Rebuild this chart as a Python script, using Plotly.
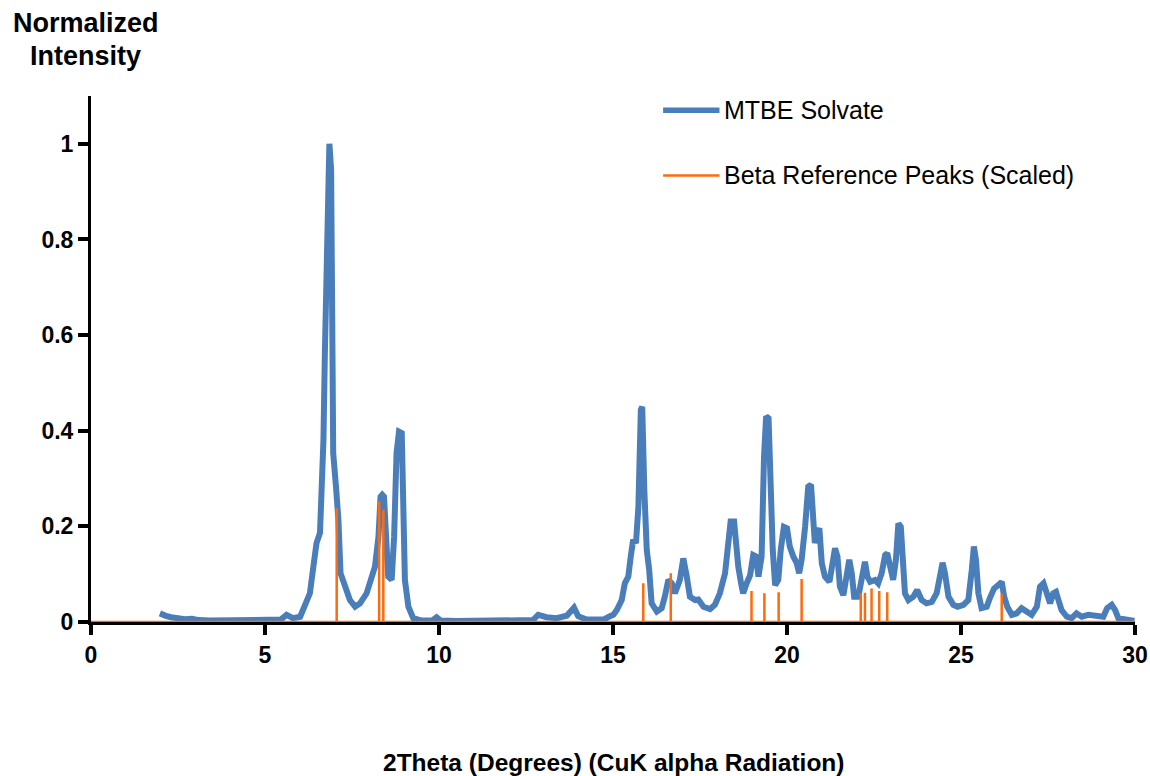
import plotly.graph_objects as go

# MTBE solvate powder pattern (2-theta in degrees, normalized intensity)
two_theta = [
    1.98, 2.05, 2.15, 2.3, 2.5, 2.7, 2.9, 3.1, 3.4, 3.7, 4.0, 4.3, 4.6, 4.9, 5.2, 5.45,
    5.62, 5.8, 6.01, 6.15, 6.29, 6.39, 6.48, 6.58, 6.63, 6.68, 6.72, 6.79, 6.85, 6.90,
    6.92, 6.96, 7.04, 7.11, 7.17, 7.30, 7.44, 7.59, 7.73, 7.92, 8.02, 8.16, 8.26, 8.32,
    8.37, 8.42, 8.48, 8.54, 8.64, 8.71, 8.78, 8.85, 8.93, 8.97, 9.02, 9.12, 9.26, 9.5,
    9.8, 9.93, 10.05, 10.5, 11.0, 11.5, 12.0, 12.5, 12.70, 12.85, 13.09, 13.38, 13.67,
    13.88, 14.0, 14.24, 14.72, 14.91, 15.01, 15.11, 15.25, 15.34, 15.44, 15.51, 15.58,
    15.66, 15.73, 15.80, 15.84, 15.90, 15.97, 16.04, 16.11, 16.26, 16.40, 16.49, 16.59,
    16.69, 16.78, 16.92, 17.02, 17.12, 17.21, 17.36, 17.45, 17.60, 17.79, 17.93, 18.07,
    18.22, 18.31, 18.38, 18.48, 18.53, 18.60, 18.68, 18.74, 18.84, 18.94, 19.03, 19.11,
    19.18, 19.27, 19.34, 19.40, 19.47, 19.53, 19.59, 19.66, 19.75, 19.82, 19.91, 20.00,
    20.08, 20.18, 20.28, 20.35, 20.42, 20.52, 20.61, 20.69, 20.76, 20.80, 20.87, 20.93,
    21.00, 21.09, 21.22, 21.31, 21.38, 21.45, 21.52, 21.62, 21.72, 21.79, 21.86, 21.93,
    22.05, 22.15, 22.24, 22.31, 22.39, 22.53, 22.62, 22.72, 22.82, 22.88, 22.96, 23.05,
    23.13, 23.20, 23.27, 23.32, 23.39, 23.49, 23.63, 23.74, 23.87, 24.01, 24.16, 24.30,
    24.40, 24.47, 24.54, 24.64, 24.78, 24.90, 25.07, 25.21, 25.31, 25.37, 25.43, 25.50,
    25.59, 25.74, 25.83, 25.95, 26.07, 26.17, 26.24, 26.33, 26.46, 26.60, 26.74, 26.89,
    27.03, 27.18, 27.27, 27.37, 27.46, 27.56, 27.65, 27.73, 27.80, 27.89, 28.04, 28.18,
    28.32, 28.47, 28.66, 28.90, 29.09, 29.20, 29.33, 29.43, 29.52, 29.86, 29.98,
]
intensity = [
    0.018, 0.015, 0.013, 0.010, 0.007, 0.006, 0.007, 0.004, 0.003, 0.003, 0.002, 0.003,
    0.003, 0.004, 0.004, 0.005, 0.015, 0.008, 0.011, 0.032, 0.060, 0.116, 0.165, 0.186,
    0.283, 0.381, 0.562, 0.841, 1.000, 0.946, 0.562, 0.353, 0.283, 0.213, 0.102, 0.074,
    0.046, 0.032, 0.039, 0.060, 0.088, 0.116, 0.178, 0.262, 0.266, 0.262, 0.178, 0.095,
    0.088, 0.178, 0.353, 0.398, 0.395, 0.213, 0.088, 0.032, 0.008, 0.003, 0.003, 0.010,
    0.003, 0.002, 0.002, 0.002, 0.002, 0.003, 0.004, 0.015, 0.010, 0.008, 0.013, 0.030,
    0.012, 0.005, 0.005, 0.012, 0.015, 0.025, 0.046, 0.081, 0.095, 0.137, 0.172, 0.165,
    0.241, 0.444, 0.450, 0.276, 0.151, 0.109, 0.039, 0.022, 0.029, 0.053, 0.088, 0.081,
    0.060, 0.088, 0.133, 0.095, 0.053, 0.046, 0.047, 0.032, 0.027, 0.036, 0.060, 0.102,
    0.158, 0.210, 0.210, 0.151, 0.116, 0.081, 0.060, 0.081, 0.098, 0.140, 0.137, 0.095,
    0.137, 0.346, 0.430, 0.426, 0.276, 0.151, 0.077, 0.088, 0.151, 0.199, 0.196, 0.158,
    0.137, 0.123, 0.102, 0.130, 0.199, 0.283, 0.287, 0.199, 0.165, 0.186, 0.196, 0.123,
    0.095, 0.084, 0.130, 0.154, 0.137, 0.074, 0.056, 0.095, 0.130, 0.102, 0.053, 0.053,
    0.088, 0.126, 0.095, 0.084, 0.088, 0.081, 0.102, 0.140, 0.144, 0.116, 0.088, 0.130,
    0.206, 0.199, 0.116, 0.060, 0.046, 0.053, 0.067, 0.046, 0.039, 0.042, 0.060, 0.095,
    0.124, 0.102, 0.053, 0.036, 0.032, 0.036, 0.046, 0.109, 0.158, 0.130, 0.060, 0.029,
    0.032, 0.050, 0.070, 0.077, 0.084, 0.053, 0.032, 0.015, 0.018, 0.029, 0.022, 0.015,
    0.032, 0.074, 0.081, 0.063, 0.039, 0.060, 0.063, 0.046, 0.025, 0.011, 0.008, 0.018,
    0.011, 0.015, 0.011, 0.011, 0.029, 0.036, 0.025, 0.008, 0.004, 0.002,
]

# Beta form reference peak positions and scaled heights
ref_positions = [7.06, 8.28, 8.40, 15.87, 16.66, 18.98, 19.35, 19.76, 20.42,
                 22.12, 22.24, 22.43, 22.65, 22.88, 26.17]
ref_heights = [0.238, 0.252, 0.234, 0.081, 0.102, 0.065, 0.060, 0.062, 0.090,
               0.060, 0.061, 0.070, 0.065, 0.062, 0.059]

x_ticks = [0, 5, 10, 15, 20, 25, 30]
y_ticks = [0, 0.2, 0.4, 0.6, 0.8, 1.0]
y_tick_text = ["0", "0.2", "0.4", "0.6", "0.8", "1"]

BLUE = "#4a7ebb"
ORANGE = "#ff6a0d"
FONT = "Liberation Sans, Arial, sans-serif"

# Stick pattern: baseline from 0 to 30 with a vertical spike at each reference peak
stick_x = [0.0]
stick_y = [0.0]
for p, h in zip(ref_positions, ref_heights):
    stick_x += [p, p, p]
    stick_y += [0.0, h, 0.0]
stick_x.append(30.0)
stick_y.append(0.0)

fig = go.Figure()
fig.add_trace(go.Scatter(
    x=two_theta, y=intensity, mode="lines", name="MTBE Solvate",
    line=dict(color=BLUE, width=6), showlegend=False,
))
fig.add_trace(go.Scatter(
    x=stick_x, y=stick_y, mode="lines", name="Beta Reference Peaks (Scaled)",
    line=dict(color=ORANGE, width=2.5), showlegend=False, cliponaxis=False,
))

axis_common = dict(
    showgrid=False, zeroline=False, showline=True, linecolor="black", linewidth=3,
    ticks="outside", ticklen=10, tickwidth=4, tickcolor="black", automargin=False,
    ticklabeloverflow="allow",
    tickfont=dict(family=FONT, size=23, color="black", weight="bold"),
)
fig.update_xaxes(range=[0, 30], tickvals=x_ticks, ticktext=[str(v) for v in x_ticks],
                 **axis_common)
fig.update_yaxes(range=[0, 1.1], tickvals=y_ticks, ticktext=y_tick_text, **axis_common)

# Legend drawn in paper coordinates
legend_items = [("MTBE Solvate", BLUE, 5.5, 0.973), ("Beta Reference Peaks (Scaled)", ORANGE, 2.5, 0.849)]
shapes = []
annotations = []
for label, color, width, yp in legend_items:
    shapes.append(dict(type="line", xref="paper", yref="paper", x0=0.548, x1=0.602,
                       y0=yp, y1=yp, line=dict(color=color, width=width)))
    annotations.append(dict(xref="paper", yref="paper", x=0.604, y=yp, text=label,
                            showarrow=False, xanchor="left", yanchor="middle",
                            font=dict(family=FONT, size=25, color="black")))

# Axis titles
annotations += [
    dict(xref="paper", yref="paper", x=-0.005, y=1.0, yshift=73, text="Normalized",
         showarrow=False, xanchor="center", yanchor="middle",
         font=dict(family=FONT, size=27, color="black", weight="bold")),
    dict(xref="paper", yref="paper", x=-0.005, y=1.0, yshift=40, text="Intensity",
         showarrow=False, xanchor="center", yanchor="middle",
         font=dict(family=FONT, size=27, color="black", weight="bold")),
    dict(xref="paper", yref="paper", x=0.5, y=0.0, yshift=-140,
         text="2Theta (Degrees) (CuK alpha Radiation)", showarrow=False,
         xanchor="center", yanchor="middle",
         font=dict(family=FONT, size=24.5, color="black", weight="bold")),
]

fig.update_layout(
    width=1150, height=776,
    margin=dict(l=91, r=15, t=96, b=154),
    paper_bgcolor="white", plot_bgcolor="white",
    shapes=shapes, annotations=annotations,
)

fig.write_html("out.html")
